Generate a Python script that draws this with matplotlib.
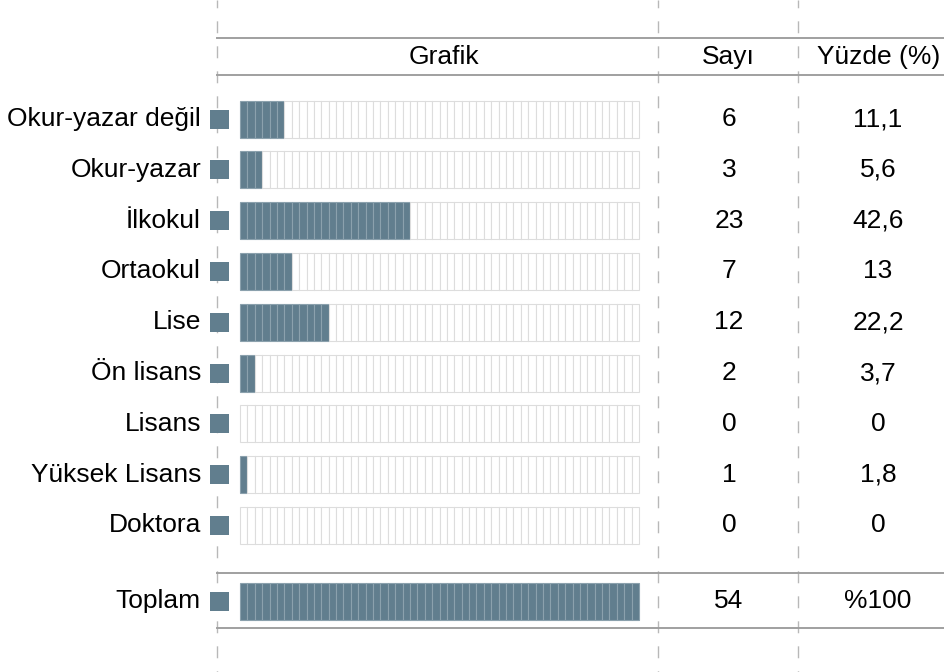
import matplotlib.pyplot as plt

# veriler
kategoriler = ['Okur-yazar değil', 'Okur-yazar', 'İlkokul', 'Ortaokul', 'Lise',
               'Ön lisans', 'Lisans', 'Yüksek Lisans', 'Doktora']
sayi = [6, 3, 23, 7, 12, 2, 0, 1, 0]
yuzde = ['11,1', '5,6', '42,6', '13', '22,2', '3,7', '0', '1,8', '0']
toplam_sayi = 54
toplam_yuzde = '%100'
basliklar = ['Grafik', 'Sayı', 'Yüzde (%)']

plt.rcParams['font.family'] = ['Liberation Sans', 'DejaVu Sans']

W, H = 945, 672
fig = plt.figure(figsize=(9.45, 6.72), dpi=100)
ax = fig.add_axes([0, 0, 1, 1])
ax.set_xlim(0, W)
ax.set_ylim(H, 0)
ax.axis('off')

dolu = '#617e8e'
dolu_kenar = '#8ba1ad'
bos_kenar = '#dddddd'
cizgi = '#a0a0a0'

x0 = 240
bar_w = 399
hucre = bar_w / toplam_sayi
bar_h = 37
satir0 = 119
satir_ara = 50.8
toplam_y = 601
sayi_x = 729
yuzde_x = 878
fs = 19

# dikey kesikli cizgiler
for xv in [217, 658, 798]:
    ax.plot([xv, xv], [0, H], color='#b8b8b8', lw=1.0, ls=(3, (8.6, 9.4)), zorder=1)

# yatay cizgiler
for yv in [38, 75, 573, 628]:
    ax.plot([217, W], [yv, yv], color=cizgi, lw=1.4, zorder=1)

# basliklar
ax.text(x0 + bar_w / 2 + 4, 57, basliklar[0], ha='center', va='center', fontsize=fs)
ax.text(sayi_x - 1, 57, basliklar[1], ha='center', va='center', fontsize=fs)
ax.text(yuzde_x + 1, 57, basliklar[2], ha='center', va='center', fontsize=fs)


def satir_ciz(y, ad, n, s, p):
    # sol etiket ve kucuk kare
    ax.text(201, y, ad, ha='right', va='center', fontsize=fs)
    ax.add_patch(plt.Rectangle((210, y - 9.5), 19, 19, facecolor=dolu,
                               edgecolor='none', zorder=3))
    # hucreler
    lefts = [x0 + i * hucre for i in range(toplam_sayi)]
    renk = [dolu if i < n else 'white' for i in range(toplam_sayi)]
    kenar = [dolu_kenar if i < n else bos_kenar for i in range(toplam_sayi)]
    ax.bar(lefts, bar_h, width=hucre, bottom=y - bar_h / 2, align='edge',
           color=renk, edgecolor=kenar, linewidth=0.8, zorder=2)
    ax.text(sayi_x, y, str(s), ha='center', va='center', fontsize=fs)
    ax.text(yuzde_x, y, p, ha='center', va='center', fontsize=fs)


for i, ad in enumerate(kategoriler):
    y = satir0 + i * satir_ara
    satir_ciz(y, ad, sayi[i], sayi[i], yuzde[i])

satir_ciz(toplam_y, 'Toplam', toplam_sayi, toplam_sayi, toplam_yuzde)

fig.savefig('out.png', dpi=100)
